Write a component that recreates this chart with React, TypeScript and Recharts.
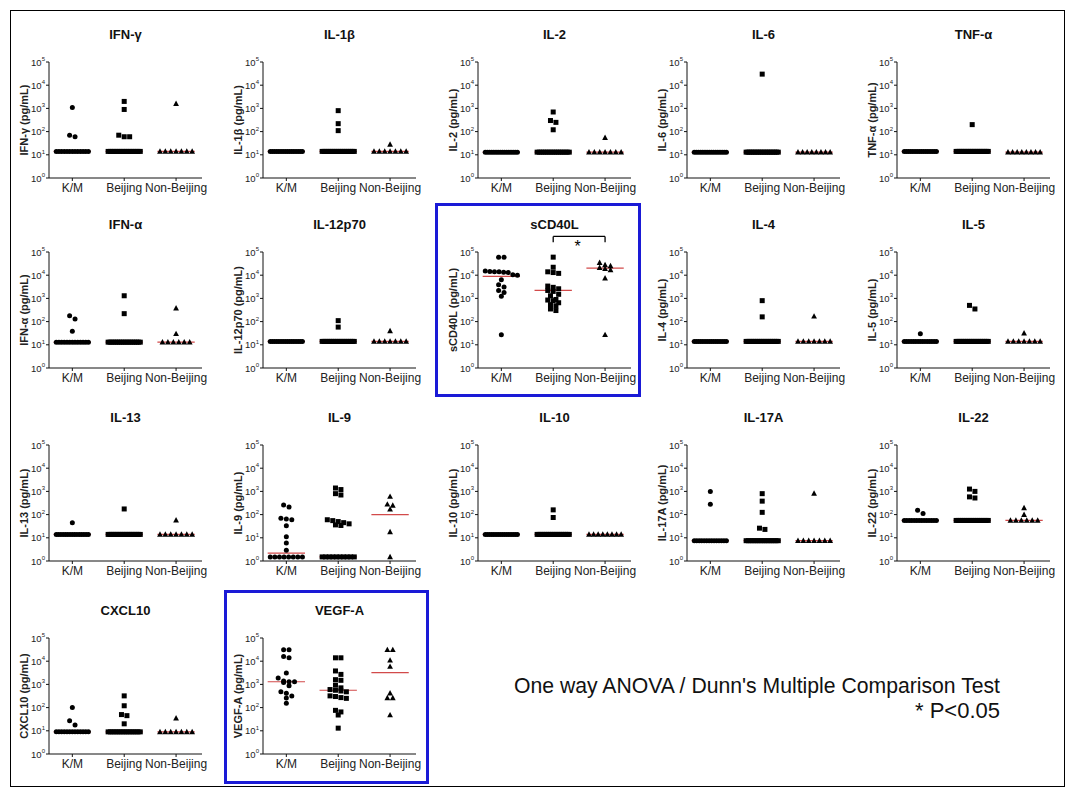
import { ScatterChart, Scatter, XAxis, YAxis, ReferenceLine, ReferenceDot } from 'recharts';

const FONT = "Arial, 'Liberation Sans', Helvetica, sans-serif";

const groups = ['K/M', 'Beijing', 'Non-Beijing'];
const yTicks = [1, 10, 100, 1000, 10000, 100000];

// each cytokine: [K/M, Beijing, Non-Beijing] in pg/mL
const ifnG = [
  [1100, 70, 60, 14, 14, 14, 14, 14, 14, 14, 14, 14, 14, 14, 14, 14],
  [2000, 900, 70, 60, 60, 14, 14, 14, 14, 14, 14, 14, 14, 14, 14, 14, 14, 14, 14, 14],
  [1600, 14, 14, 14, 14, 14, 14, 14],
];
const il1b = [
  [14, 14, 14, 14, 14, 14, 14, 14, 14, 14, 14, 14, 14, 14, 14, 14],
  [800, 220, 110, 14, 14, 14, 14, 14, 14, 14, 14, 14, 14, 14, 14, 14, 14, 14, 14, 14],
  [28, 14, 14, 14, 14, 14, 14, 14],
];
const il2 = [
  [13, 13, 13, 13, 13, 13, 13, 13, 13, 13, 13, 13, 13, 13, 13, 13],
  [700, 300, 250, 120, 13, 13, 13, 13, 13, 13, 13, 13, 13, 13, 13, 13, 13, 13, 13, 13],
  [55, 13, 13, 13, 13, 13, 13, 13],
];
const il6 = [
  [13, 13, 13, 13, 13, 13, 13, 13, 13, 13, 13, 13, 13, 13, 13, 13],
  [30000, 13, 13, 13, 13, 13, 13, 13, 13, 13, 13, 13, 13, 13, 13, 13, 13, 13, 13, 13],
  [13, 13, 13, 13, 13, 13, 13, 13],
];
const tnfA = [
  [14, 14, 14, 14, 14, 14, 14, 14, 14, 14, 14, 14, 14, 14, 14, 14],
  [200, 14, 14, 14, 14, 14, 14, 14, 14, 14, 14, 14, 14, 14, 14, 14, 14, 14, 14, 14],
  [13, 13, 13, 13, 13, 13, 13, 13],
];
const ifnA = [
  [180, 130, 38, 13, 13, 13, 13, 13, 13, 13, 13, 13, 13, 13, 13, 13],
  [1300, 220, 13, 13, 13, 13, 13, 13, 13, 13, 13, 13, 13, 13, 13, 13, 13, 13, 13, 13],
  [380, 30, 13, 13, 13, 13, 13, 13],
];
const il12 = [
  [14, 14, 14, 14, 14, 14, 14, 14, 14, 14, 14, 14, 14, 14, 14, 14],
  [110, 58, 14, 14, 14, 14, 14, 14, 14, 14, 14, 14, 14, 14, 14, 14, 14, 14, 14, 14],
  [40, 14, 14, 14, 14, 14, 14, 14],
];
const sCd40l = [
  [60000, 60000, 15000, 14500, 14000, 14000, 13500, 13000, 10500, 10000, 6300, 3900, 3100, 2200, 1800, 1230, 27],
  [60000, 22000, 14000, 13000, 12000, 3400, 3000, 2600, 2200, 2000, 1500, 1300, 900, 850, 800, 650, 540, 480, 350, 300],
  [35000, 28000, 25000, 21000, 19000, 17000, 7500, 27],
];
const il4 = [
  [14, 14, 14, 14, 14, 14, 14, 14, 14, 14, 14, 14, 14, 14, 14, 14],
  [800, 160, 14, 14, 14, 14, 14, 14, 14, 14, 14, 14, 14, 14, 14, 14, 14, 14, 14, 14],
  [170, 14, 14, 14, 14, 14, 14, 14],
];
const il5 = [
  [30, 14, 14, 14, 14, 14, 14, 14, 14, 14, 14, 14, 14, 14, 14, 14],
  [500, 350, 14, 14, 14, 14, 14, 14, 14, 14, 14, 14, 14, 14, 14, 14, 14, 14, 14, 14],
  [32, 14, 14, 14, 14, 14, 14, 14],
];
const il13 = [
  [44, 14, 14, 14, 14, 14, 14, 14, 14, 14, 14, 14, 14, 14, 14, 14],
  [175, 14, 14, 14, 14, 14, 14, 14, 14, 14, 14, 14, 14, 14, 14, 14, 14, 14, 14, 14],
  [58, 14, 14, 14, 14, 14, 14, 14],
];
const il9 = [
  [260, 210, 70, 65, 60, 33, 11, 6, 2.9, 1.5, 1.5, 1.5, 1.5, 1.5, 1.5, 1.5, 1.5],
  [1400, 1200, 800, 700, 60, 55, 50, 45, 40, 36, 34, 1.5, 1.5, 1.5, 1.5, 1.5, 1.5, 1.5, 1.5, 1.5, 1.5],
  [600, 280, 250, 170, 18, 1.5],
];
const il10 = [
  [14, 14, 14, 14, 14, 14, 14, 14, 14, 14, 14, 14, 14, 14, 14, 14],
  [160, 75, 14, 14, 14, 14, 14, 14, 14, 14, 14, 14, 14, 14, 14, 14, 14, 14, 14, 14],
  [14, 14, 14, 14, 14, 14, 14, 14],
];
const il17a = [
  [1000, 280, 7.5, 7.5, 7.5, 7.5, 7.5, 7.5, 7.5, 7.5, 7.5, 7.5, 7.5, 7.5, 7.5, 7.5],
  [800, 380, 125, 26, 23, 7.5, 7.5, 7.5, 7.5, 7.5, 7.5, 7.5, 7.5, 7.5, 7.5, 7.5, 7.5, 7.5, 7.5, 7.5],
  [820, 7.5, 7.5, 7.5, 7.5, 7.5, 7.5, 7.5],
];
const il22 = [
  [155, 112, 56, 56, 56, 56, 56, 56, 56, 56, 56, 56, 56, 56, 56, 56],
  [1260, 1000, 580, 520, 56, 56, 56, 56, 56, 56, 56, 56, 56, 56, 56, 56, 56, 56, 56, 56],
  [195, 100, 56, 56, 56, 56, 56, 56],
];
const cxcl10 = [
  [100, 27, 18, 9, 9, 9, 9, 9, 9, 9, 9, 9, 9, 9, 9, 9],
  [320, 120, 50, 45, 20, 9, 9, 9, 9, 9, 9, 9, 9, 9, 9, 9, 9, 9, 9, 9],
  [35, 9, 9, 9, 9, 9, 9, 9],
];
const vegfA = [
  [31000, 31000, 16000, 14000, 3100, 1900, 1400, 1300, 1300, 1200, 870, 480, 420, 320, 260, 155],
  [14000, 14000, 3800, 2700, 1600, 1500, 930, 710, 600, 560, 520, 480, 320, 300, 270, 250, 76, 65, 48, 13],
  [31000, 31000, 11000, 5900, 420, 260, 260, 48],
];

// medians (red lines) per group
const ifnGMed = [14, 14, 14];
const il1bMed = [14, 14, 14];
const il2Med = [13, 13, 13];
const il6Med = [13, 13, 13];
const tnfAMed = [14, 14, 13];
const ifnAMed = [13, 13, 13];
const il12Med = [14, 14, 14];
const sCd40lMed = [8900, 2200, 20000];
const il4Med = [14, 14, 14];
const il5Med = [14, 14, 14];
const il13Med = [14, 14, 14];
const il9Med = [2.2, 1.5, 100];
const il10Med = [14, 14, 14];
const il17aMed = [7.5, 7.5, 7.5];
const il22Med = [56, 56, 56];
const cxcl10Med = [9, 9, 9];
const vegfAMed = [1300, 560, 3200];

type Panel = { title: string; values: number[][]; med: number[] };

const panels: Panel[] = [
  { title: 'IFN-γ', values: ifnG, med: ifnGMed },
  { title: 'IL-1β', values: il1b, med: il1bMed },
  { title: 'IL-2', values: il2, med: il2Med },
  { title: 'IL-6', values: il6, med: il6Med },
  { title: 'TNF-α', values: tnfA, med: tnfAMed },
  { title: 'IFN-α', values: ifnA, med: ifnAMed },
  { title: 'IL-12p70', values: il12, med: il12Med },
  { title: 'sCD40L', values: sCd40l, med: sCd40lMed },
  { title: 'IL-4', values: il4, med: il4Med },
  { title: 'IL-5', values: il5, med: il5Med },
  { title: 'IL-13', values: il13, med: il13Med },
  { title: 'IL-9', values: il9, med: il9Med },
  { title: 'IL-10', values: il10, med: il10Med },
  { title: 'IL-17A', values: il17a, med: il17aMed },
  { title: 'IL-22', values: il22, med: il22Med },
  { title: 'CXCL10', values: cxcl10, med: cxcl10Med },
  { title: 'VEGF-A', values: vegfA, med: vegfAMed },
];

// layout
const colX = [49, 263, 478, 687, 897];
const rowTop = [62, 252, 445, 638];
const Y_W = 40;
const PLOT_W = 153;
const PLOT_H = 116;
const M_TOP = 30;
const M_RIGHT = 28;
const X_H = 30;

// prism-like horizontal spread of points that sit close together
function spread(vals: number[], center: number) {
  const sorted = [...vals].sort((a, b) => b - a);
  const out: { x: number; y: number }[] = [];
  let i = 0;
  while (i < sorted.length) {
    const top = Math.log10(sorted[i]);
    let j = i;
    while (j < sorted.length && top - Math.log10(sorted[j]) < 0.18) j++;
    const k = j - i;
    const step = k > 1 ? Math.min(0.105, 0.62 / (k - 1)) : 0;
    for (let n = 0; n < k; n++) {
      out.push({ x: center + (n - (k - 1) / 2) * step, y: sorted[i + n] });
    }
    i = j;
  }
  return out;
}

const shapes = [
  (p: any) => <circle cx={p.cx} cy={p.cy} r={2.5} fill="#000" />,
  (p: any) => <rect x={p.cx - 2.5} y={p.cy - 2.5} width={5} height={5} fill="#000" />,
  (p: any) => (
    <polygon
      points={`${p.cx},${p.cy - 3.1} ${p.cx + 2.9},${p.cy + 2.3} ${p.cx - 2.9},${p.cy + 2.3}`}
      fill="#000"
    />
  ),
];

const renderYTick = (props: any) => {
  const { x, y, payload } = props;
  const exp = Math.round(Math.log10(payload.value));
  return (
    <text x={x + 1} y={y + 3.5} textAnchor="end" fontSize={9.5} fill="#222" fontFamily={FONT}>
      10
      <tspan dy={-4.5} fontSize={6}>
        {exp}
      </tspan>
    </text>
  );
};

function CytoPanel({ panel, left, top }: { panel: Panel; left: number; top: number }) {
  const yLabel = `${panel.title} (pg/mL)`;
  const lx = 15;
  const ly = M_TOP + PLOT_H / 2;
  return (
    <>
      <div
        style={{
          position: 'absolute',
          left,
          top: top - 36,
          width: PLOT_W,
          textAlign: 'center',
          fontFamily: FONT,
          fontWeight: 'bold',
          fontSize: 13,
          lineHeight: '18px',
          color: '#111',
        }}
      >
        {panel.title}
      </div>
      <div style={{ position: 'absolute', left: left - Y_W, top: top - M_TOP }}>
        <ScatterChart
          width={Y_W + PLOT_W + M_RIGHT}
          height={M_TOP + PLOT_H + X_H}
          margin={{ top: M_TOP, right: M_RIGHT, bottom: 0, left: 0 }}
        >
          <XAxis
            type="number"
            dataKey="x"
            domain={[0.55, 3.5]}
            ticks={[1, 2, 3]}
            interval={0}
            allowDataOverflow
            tickFormatter={(v: number) => groups[v - 1]}
            height={X_H}
            tickSize={3}
            axisLine={{ stroke: '#111' }}
            tickLine={{ stroke: '#111' }}
            tick={{ fontSize: 12, fill: '#222', fontFamily: FONT }}
          />
          <YAxis
            type="number"
            dataKey="y"
            scale="log"
            domain={[1, 100000]}
            ticks={yTicks}
            interval={0}
            allowDataOverflow
            width={Y_W}
            tickSize={3}
            axisLine={{ stroke: '#111' }}
            tickLine={{ stroke: '#111' }}
            tick={renderYTick}
            label={() => (
              <text
                x={lx}
                y={ly}
                transform={`rotate(-90 ${lx} ${ly})`}
                textAnchor="middle"
                dominantBaseline="central"
                fontSize={11}
                fontWeight="bold"
                fill="#222"
                fontFamily={FONT}
              >
                {yLabel}
              </text>
            )}
          />
          {panel.med.map((m, i) => (
            <ReferenceLine
              key={`m${i}`}
              segment={[
                { x: i + 1 - 0.36, y: m },
                { x: i + 1 + 0.36, y: m },
              ]}
              stroke="#d24a4a"
              strokeWidth={1.2}
            />
          ))}
          {panel.title === 'sCD40L' && (
            <>
              <ReferenceLine
                segment={[
                  { x: 2, y: 470000 },
                  { x: 3, y: 470000 },
                ]}
                stroke="#000"
                strokeWidth={1.3}
                ifOverflow="visible"
              />
              <ReferenceLine
                segment={[
                  { x: 2, y: 470000 },
                  { x: 2, y: 260000 },
                ]}
                stroke="#000"
                strokeWidth={1.3}
                ifOverflow="visible"
              />
              <ReferenceLine
                segment={[
                  { x: 3, y: 470000 },
                  { x: 3, y: 260000 },
                ]}
                stroke="#000"
                strokeWidth={1.3}
                ifOverflow="visible"
              />
              <ReferenceDot
                x={2.47}
                y={250000}
                ifOverflow="visible"
                shape={(p: any) => (
                  <text x={p.cx} y={p.cy + 9} textAnchor="middle" fontSize={16} fill="#000" fontFamily={FONT}>
                    *
                  </text>
                )}
              />
            </>
          )}
          {panel.values.map((vals, i) => (
            <Scatter
              key={`s${i}`}
              name={groups[i]}
              data={spread(vals, i + 1)}
              shape={shapes[i]}
              isAnimationActive={false}
            />
          ))}
        </ScatterChart>
      </div>
    </>
  );
}

export default function App() {
  return (
    <div style={{ position: 'absolute', left: 0, top: 0, width: 1083, height: 800, background: '#fff' }}>
      <div
        style={{
          position: 'absolute',
          left: 10,
          top: 10,
          width: 1055,
          height: 777,
          border: '1.5px solid #000',
          boxSizing: 'border-box',
        }}
      />
      <div
        style={{
          position: 'absolute',
          left: 435,
          top: 203,
          width: 206,
          height: 194,
          border: '3px solid #1a1ad6',
          boxSizing: 'border-box',
        }}
      />
      <div
        style={{
          position: 'absolute',
          left: 224,
          top: 590,
          width: 205,
          height: 194,
          border: '3px solid #1a1ad6',
          boxSizing: 'border-box',
        }}
      />
      {panels.map((p, i) => (
        <CytoPanel key={p.title} panel={p} left={colX[i % 5]} top={rowTop[Math.floor(i / 5)]} />
      ))}
      <svg width={1083} height={800} style={{ position: 'absolute', left: 0, top: 0, pointerEvents: 'none' }}>
        <text
          x={514}
          y={693}
          fontSize={22}
          fill="#111"
          fontFamily={FONT}
          textLength={486}
          lengthAdjust="spacingAndGlyphs"
        >
          One way ANOVA / Dunn's Multiple Comparison Test
        </text>
        <text
          x={1000}
          y={718}
          fontSize={22}
          fill="#111"
          fontFamily={FONT}
          textAnchor="end"
        >
          * P&lt;0.05
        </text>
      </svg>
    </div>
  );
}
